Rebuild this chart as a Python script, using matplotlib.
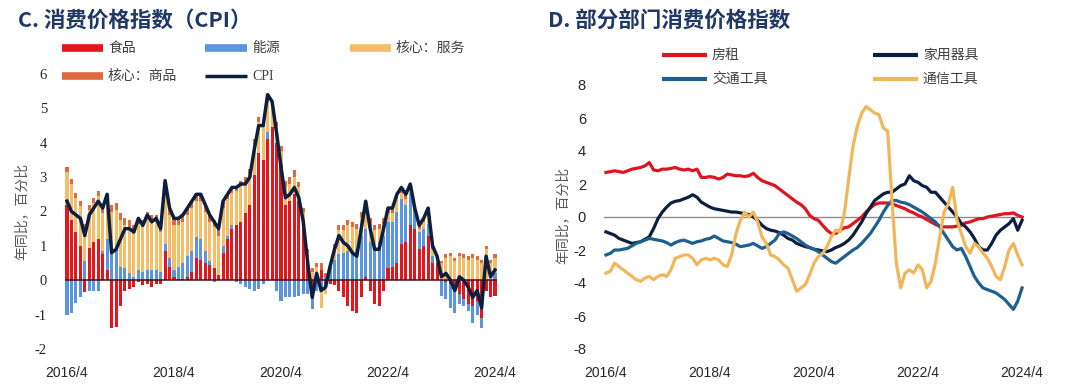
import numpy as np
import matplotlib
matplotlib.use('Agg')
import matplotlib.pyplot as plt
from matplotlib.lines import Line2D

plt.rcParams['font.family'] = ['Noto Sans CJK SC', 'DejaVu Sans']
plt.rcParams['axes.unicode_minus'] = False

# monthly, 2016/4 .. 2024/4
tick_labels = ['2016/4', '2018/4', '2020/4', '2022/4', '2024/4']

# C. CPI and contributions (ppt)
cpi = [2.3, 2.0, 1.9, 1.8, 1.3, 1.9, 2.1, 2.3, 2.1,
       2.5, 0.8, 0.9, 1.2, 1.5, 1.5, 1.4, 1.8, 1.6, 1.9, 1.7, 1.8,
       1.5, 2.9, 2.1, 1.8, 1.8, 1.9, 2.1, 2.3, 2.5, 2.5, 2.2, 1.9,
       1.7, 1.5, 2.3, 2.5, 2.7, 2.7, 2.8, 2.8, 3.0, 3.8, 4.5, 4.5,
       5.4, 5.2, 4.3, 3.3, 2.4, 2.5, 2.7, 2.4, 1.7, 0.5, -0.5, 0.2,
       -0.3, -0.2, 0.4, 0.9, 1.3, 1.1, 1.0, 0.8, 0.7, 1.5, 2.3, 1.5,
       0.9, 0.9, 1.5, 2.1, 2.1, 2.5, 2.7, 2.5, 2.8, 2.1, 1.6, 1.8,
       2.1, 1.0, 0.7, 0.1, 0.2, 0.0, -0.3, 0.1, 0.0, -0.2, -0.5, -0.3,
       -0.8, 0.7, 0.1, 0.3]
food = [2.2, 1.75, 1.4, 1.0, -0.35, 0.95, 1.1, 1.2, 0.75,
        0.3, -1.4, -1.35, -0.75, -0.3, -0.25, -0.2, -0.05, -0.15, -0.1, -0.2, -0.1,
        -0.1, 0.85, 0.4, 0.1, 0.05, 0.05, 0.1, 0.25, 0.65, 0.6, 0.5, 0.45,
        0.35, 0.15, 0.8, 1.2, 1.5, 1.6, 1.7, 1.95, 2.2, 3.05, 3.7, 3.5,
        4.1, 4.45, 4.0, 3.35, 2.2, 2.3, 2.5, 2.3, 1.7, 0.5, -0.4, 0.1,
        0.3, -0.1, -0.1, -0.15, -0.3, -0.5, -0.75, -0.9, -0.95, -0.5, 0.1, -0.3,
        -0.7, -0.75, -0.3, 0.35, 0.4, 0.5, 1.05, 1.1, 1.6, 1.5, 0.9, 1.0,
        1.3, 0.5, 0.5, 0.0, -0.05, -0.1, -0.35, -0.4, -0.55, -0.7, -0.75, -0.6,
        -1.1, -0.3, -0.5, -0.45]
energy = [-1.0, -0.95, -0.65, -0.5, 0.55, -0.3, -0.3, -0.3, 0.1,
          0.9, 0.9, 0.9, 0.4, 0.35, 0.2, 0.1, 0.3, 0.25, 0.3, 0.3, 0.3,
          0.25, 0.2, 0.25, 0.2, 0.35, 0.45, 0.6, 0.6, 0.6, 0.6, 0.35, 0.1,
          -0.05, 0.0, 0.2, 0.1, 0.1, -0.05, -0.1, -0.2, -0.25, -0.3, -0.25, -0.1,
          0.2, 0.0, -0.3, -0.6, -0.5, -0.5, -0.5, -0.45, -0.4, -0.4, -0.45, -0.3,
          -0.3, 0.1, 0.4, 0.6, 0.75, 0.8, 0.85, 0.8, 0.9, 1.3, 1.4, 1.1,
          1.0, 1.1, 1.3, 1.35, 1.3, 1.5, 1.3, 1.1, 0.95, 0.5, 0.5, 0.5,
          0.35, 0.2, 0.0, -0.45, -0.5, -0.7, -0.6, -0.3, -0.2, -0.2, -0.5, -0.4,
          -0.3, 0.0, 0.0, 0.2]
core_serv = [0.95, 1.05, 1.0, 1.15, 0.95, 1.1, 1.15, 1.25, 1.1,
             1.1, 1.1, 1.15, 1.35, 1.25, 1.35, 1.3, 1.35, 1.3, 1.5, 1.4, 1.4,
             1.15, 1.65, 1.25, 1.3, 1.2, 1.2, 1.2, 1.25, 1.05, 1.1, 1.15, 1.15,
             1.2, 1.15, 1.1, 1.05, 0.95, 1.0, 1.05, 0.9, 0.9, 0.9, 0.9, 0.95,
             0.9, 0.6, 0.5, 0.4, 0.5, 0.5, 0.5, 0.4, 0.3, 0.3, 0.25, 0.3,
             -0.5, -0.3, 0.0, 0.35, 0.7, 0.65, 0.75, 0.75, 0.6, 0.55, 0.6, 0.5,
             0.45, 0.4, 0.35, 0.25, 0.25, 0.35, 0.2, 0.15, 0.1, 0.0, 0.1, 0.2,
             0.35, 0.2, 0.15, 0.5, 0.65, 0.7, 0.55, 0.7, 0.65, 0.6, 0.65, 0.6,
             0.5, 0.9, 0.5, 0.45]
core_goods = [0.15, 0.15, 0.15, 0.15, 0.15, 0.15, 0.15, 0.15, 0.15,
              0.2, 0.2, 0.2, 0.2, 0.2, 0.2, 0.2, 0.2, 0.2, 0.2, 0.2, 0.2,
              0.2, 0.2, 0.2, 0.2, 0.2, 0.2, 0.2, 0.2, 0.2, 0.2, 0.2, 0.2,
              0.2, 0.2, 0.2, 0.15, 0.15, 0.15, 0.15, 0.15, 0.15, 0.15, 0.15, 0.15,
              0.2, 0.15, 0.1, 0.15, 0.2, 0.2, 0.2, 0.15, 0.1, 0.1, 0.1, 0.1,
              0.2, 0.1, 0.1, 0.1, 0.15, 0.15, 0.15, 0.15, 0.15, 0.15, 0.2, 0.2,
              0.15, 0.15, 0.15, 0.15, 0.15, 0.15, 0.15, 0.15, 0.15, 0.1, 0.1, 0.1,
              0.1, 0.1, 0.05, 0.05, 0.1, 0.1, 0.1, 0.1, 0.1, 0.1, 0.1, 0.1,
              0.1, 0.1, 0.1, 0.1]

# D. selected categories yoy (%)
rent = [2.7, 2.75, 2.8, 2.75, 2.7, 2.8, 2.9, 2.95, 3.0, 3.1,
        3.3, 2.85, 2.8, 2.9, 2.9, 2.95, 3.0, 2.9, 2.85, 2.9,
        2.8, 2.9, 2.4, 2.4, 2.45, 2.4, 2.3, 2.4, 2.6, 2.55,
        2.5, 2.5, 2.45, 2.5, 2.65, 2.4, 2.2, 2.1, 2.0, 1.9,
        1.7, 1.5, 1.3, 1.1, 0.9, 0.75, 0.5, 0.1, -0.1, -0.2,
        -0.5, -0.8, -1.0, -1.0, -0.8, -0.65, -0.6, -0.4, -0.2, 0.0,
        0.3, 0.55, 0.75, 0.85, 0.85, 0.85, 0.8, 0.7, 0.6, 0.5,
        0.35, 0.25, 0.1, 0.0, -0.15, -0.3, -0.45, -0.55, -0.6, -0.6,
        -0.6, -0.55, -0.5, -0.35, -0.3, -0.2, -0.1, -0.1, 0.0, 0.05,
        0.1, 0.15, 0.2, 0.2, 0.25, 0.1, 0.0]
appliance = [-0.9, -1.0, -1.1, -1.3, -1.4, -1.5, -1.6, -1.55, -1.5, -1.35,
             -1.2, -0.7, -0.1, 0.3, 0.6, 0.85, 0.95, 1.0, 1.1, 1.2,
             1.35, 1.2, 0.9, 0.75, 0.6, 0.5, 0.45, 0.4, 0.35, 0.3,
             0.3, 0.25, 0.2, 0.15, 0.0, -0.2, -0.5, -0.7, -0.8, -0.85,
             -0.95, -1.1, -1.3, -1.4, -1.6, -1.7, -1.8, -1.85, -1.95, -2.0,
             -2.05, -2.1, -2.0, -1.85, -1.75, -1.6, -1.4, -1.1, -0.7, -0.3,
             0.2, 0.6, 1.0, 1.2, 1.4, 1.5, 1.5, 1.7, 1.9, 2.0,
             2.5, 2.2, 2.1, 1.9, 1.8, 1.5, 1.5, 1.2, 0.9, 0.6,
             0.3, 0.0, -0.4, -0.6, -0.9, -1.3, -1.8, -2.0, -2.0, -1.6,
             -1.1, -0.8, -0.6, -0.4, -0.1, -0.8, -0.2]
transport = [-2.3, -2.2, -2.0, -2.0, -1.95, -1.9, -1.75, -1.6, -1.5, -1.4,
             -1.3, -1.35, -1.4, -1.45, -1.55, -1.7, -1.55, -1.45, -1.4, -1.5,
             -1.6, -1.5, -1.45, -1.35, -1.3, -1.15, -1.3, -1.45, -1.5, -1.55,
             -1.65, -1.8, -1.75, -1.7, -1.6, -1.75, -1.9, -1.8, -1.6, -1.4,
             -1.0, -0.9, -1.0, -1.15, -1.3, -1.5, -1.7, -1.85, -1.95, -2.1,
             -2.3, -2.5, -2.7, -2.8, -2.6, -2.4, -2.2, -2.0, -1.85, -1.6,
             -1.3, -1.0, -0.6, -0.2, 0.3, 0.7, 1.0, 1.0, 0.9, 0.85,
             0.75, 0.6, 0.45, 0.3, 0.1, -0.1, -0.3, -0.6, -1.0, -1.4,
             -1.8, -2.0, -1.9, -2.4, -3.0, -3.6, -4.0, -4.3, -4.4, -4.5,
             -4.6, -4.8, -5.0, -5.3, -5.6, -5.1, -4.3]
telecom = [-3.4, -3.3, -2.8, -3.0, -3.2, -3.4, -3.6, -3.8, -3.9, -3.7,
           -3.6, -3.8, -3.6, -3.5, -3.6, -3.2, -2.5, -2.4, -2.3, -2.3,
           -2.5, -2.9, -2.6, -2.5, -2.6, -2.5, -2.6, -2.9, -3.0, -2.3,
           -1.0, -0.2, 0.3, 0.0, 0.3, -0.3, -1.2, -1.6, -2.3, -2.4,
           -2.6, -2.9, -3.1, -3.8, -4.5, -4.3, -4.1, -3.5, -2.8, -2.4,
           -2.2, -1.8, -1.2, -0.8, -0.9, 0.2, 2.3, 4.3, 5.5, 6.3,
           6.7, 6.5, 6.3, 6.2, 5.4, 5.2, 1.0, -2.8, -4.3, -3.4,
           -3.2, -3.4, -2.9, -3.2, -4.3, -3.9, -2.8, -1.2, 0.3, 0.8,
           1.8, -0.2, -1.0, -1.8, -2.2, -1.6, -1.8, -2.2, -2.5, -3.0,
           -3.6, -3.8, -3.0, -2.0, -1.6, -2.3, -2.9]

W, H = 1080, 389
fig = plt.figure(figsize=(W / 100, H / 100), dpi=100)
navy = '#0c1f3f'
title_c = '#1f3864'
lab_c = '#595959'


def fx(px):
    return px / W


def fy(py):
    return 1 - py / H


def legend_item(x0, x1, y, color, lw, text, fam=None):
    fig.add_artist(Line2D([fx(x0), fx(x1)], [fy(y), fy(y)], transform=fig.transFigure,
                          color=color, lw=lw, solid_capstyle='butt'))
    fig.text(fx(x1 + 5), fy(y), text, va='center', ha='left', fontsize=10,
             color='#404040', family=fam)


# ---------------- C ----------------
x = np.arange(len(cpi))
ax1 = fig.add_axes([fx(65), fy(349), fx(497 - 65), fy(74) - fy(349)])
comps = [(food, '#e3161d'), (energy, '#5b95e0'), (core_serv, '#f5bd68'), (core_goods, '#df6a3e')]
pos = np.zeros(len(x))
neg = np.zeros(len(x))
for vals, col in comps:
    v = np.array(vals)
    bot = np.where(v >= 0, pos, neg)
    ax1.bar(x, v, 0.68, bottom=bot, color=col, linewidth=0)
    pos = pos + np.clip(v, 0, None)
    neg = neg + np.clip(v, None, 0)
ax1.axhline(0, color='#4a0d0d', lw=1.1, zorder=3)
ax1.plot(x, cpi, color=navy, lw=2.5, zorder=4)
ax1.set_xlim(-0.45, 96.45)
ax1.set_ylim(-2, 6)
ax1.set_yticks(range(-2, 7))
ax1.set_yticklabels([str(v) for v in range(-2, 7)], family='Liberation Serif',
                    fontsize=10.5, color='#262626')
ax1.set_xticks([0, 24, 48, 72, 96])
ax1.set_xticklabels(tick_labels, family='Liberation Sans', fontsize=10, color='#262626')
ax1.tick_params(length=0)
ax1.tick_params(axis='y', pad=13)
ax1.tick_params(axis='x', pad=12)
for s in ax1.spines.values():
    s.set_visible(False)
fig.text(fx(22), fy(211), '年同比，百分比', rotation=90, fontsize=10, color=lab_c,
         ha='center', va='center')

fig.text(fx(18), fy(20), 'C. 消费价格指数（CPI）', fontsize=15.5, fontweight='bold',
         color=title_c, va='center', ha='left')
legend_item(62, 103, 48, '#e3161d', 5.5, '食品')
legend_item(205, 247, 48, '#5b95e0', 5.5, '能源')
legend_item(350, 391, 48, '#f5bd68', 5.5, '核心：服务')
legend_item(62, 103, 76, '#df6a3e', 5.5, '核心：商品')
legend_item(205, 247, 76, navy, 2.5, 'CPI', fam='Liberation Serif')

# ---------------- D ----------------
ax2 = fig.add_axes([fx(604), fy(349), fx(1024 - 604), fy(85) - fy(349)])
ax2.axhline(0, color='#8c8c8c', lw=1.0, zorder=1)
series = [(rent, '#e0141e'), (appliance, navy), (transport, '#1f5f8f'), (telecom, '#f2b65a')]
for vals, col in series:
    ax2.plot(x, vals, color=col, lw=2.3, zorder=3)
ax2.set_xlim(-0.45, 96.45)
ax2.set_ylim(-8, 8)
ax2.set_yticks(range(-8, 9, 2))
ax2.set_yticklabels([str(v) for v in range(-8, 9, 2)], family='Liberation Sans',
                    fontsize=10.5, color='#262626')
ax2.set_xticks([0, 24, 48, 72, 96])
ax2.set_xticklabels(tick_labels, family='Liberation Sans', fontsize=10, color='#262626')
ax2.tick_params(length=0)
ax2.tick_params(axis='y', pad=13)
ax2.tick_params(axis='x', pad=12)
for s in ax2.spines.values():
    s.set_visible(False)
fig.text(fx(563), fy(215), '年同比，百分比', rotation=90, fontsize=10, color=lab_c,
         ha='center', va='center')

fig.text(fx(548), fy(20), 'D. 部分部门消费价格指数', fontsize=15.5, fontweight='bold',
         color=title_c, va='center', ha='left')
legend_item(662, 707, 55, '#e0141e', 3.0, '房租')
legend_item(873, 918, 55, navy, 3.0, '家用器具')
legend_item(662, 707, 79, '#1f5f8f', 3.0, '交通工具')
legend_item(873, 918, 79, '#f2b65a', 3.0, '通信工具')

fig.savefig('out.png', dpi=100)
